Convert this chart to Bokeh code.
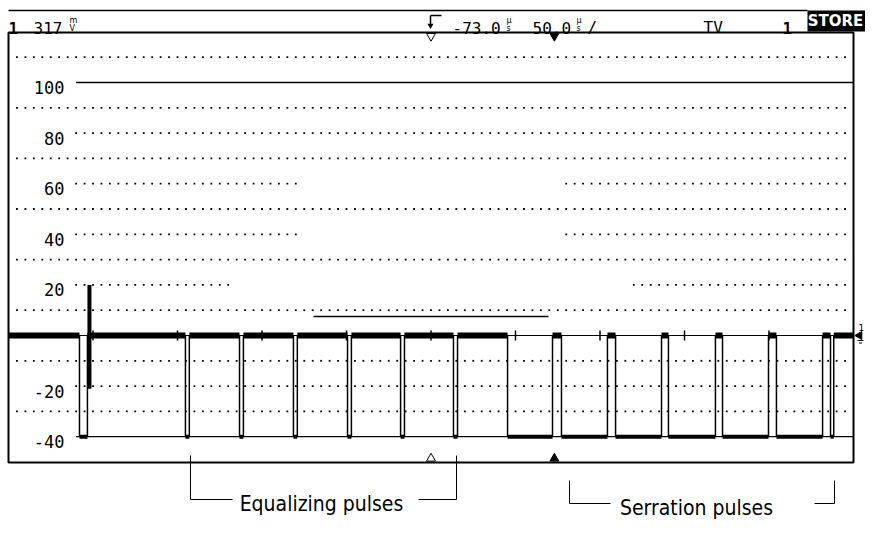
import numpy as np
from bokeh.plotting import figure
from bokeh.models import Range1d
from bokeh.core.properties import value
from bokeh.embed import file_html
from bokeh.resources import INLINE

# ---------------- data read from the scope screen ----------------
# horizontal: microseconds from the left edge of the screen (50 us/div, 10 div)
# vertical: IRE units
screen_span_us = 500.0
time_per_div_us = 50.0
trigger_delay_us = -73.0

header_channel = "1"
header_probe = "317"
header_delay = "-73.0"
header_timebase = "50.0"
header_mode = "TV"
header_store = "STORE"

# sync pulse edges (alternating falling / rising), us
sync_edges_us = [42.0, 46.7,                                   # horizontal sync
                 104.7, 107.0, 136.7, 139.0, 168.6, 170.9,      # pre-equalizing pulses
                 200.6, 202.9, 232.0, 234.3, 263.3, 265.7,
                 295.3, 321.9, 327.2, 354.4, 359.2, 386.4,      # serrated vertical sync
                 390.5, 418.3, 422.5, 449.7, 454.4, 481.7,
                 486.4, 488.3]                                  # post-equalizing pulse
blank_level_ire = 0
sync_level_ire = -40
setup_level_ire = 7.5
setup_span_us = [180.5, 319.5]
burst_t_us = 47.9
burst_span_ire = [-21, 20]

scale_labels = ["100", "80", "60", "40", "20", "-20", "-40"]
scale_values = [100, 80, 60, 40, 20, -20, -40]

annotation_texts = ["Equalizing pulses", "Serration pulses"]

# ---------------- layout ----------------
W, H = 865, 520
X0_PX, PX_PER_US = 8.0, 1.69      # pixel of the screen's left edge, pixels per us
Y0_PX, PX_PER_IRE = 335.0, 2.53   # pixel of 0 IRE, pixels per IRE


def tx(px):
    return (px - X0_PX) / PX_PER_US


def ty(py):
    return (Y0_PX - py) / PX_PER_IRE


p = figure(width=W, height=H, output_backend="svg", toolbar_location=None,
           x_range=Range1d(tx(0), tx(W)), y_range=Range1d(ty(H), ty(0)),
           x_axis_location=None, y_axis_location=None, min_border=0,
           outline_line_color=None, background_fill_color="white",
           border_fill_color="white")
p.grid.visible = False

MONO = value("DejaVu Sans Mono")
SANS = value("DejaVu Sans")
NARROW = value("Liberation Sans Narrow, DejaVu Sans Condensed, sans-serif")

# ---- graticule: dotted rows (dots every 1/10 div) ----
dotted_rows = [
    (110, [(5, 495)]), (90, [(5, 495)]), (70, [(5, 495)]), (50, [(5, 495)]),
    (30, [(5, 495)]), (10, [(5, 495)]), (-10, [(5, 495)]), (-30, [(5, 495)]),
    (80, [(40, 495)]), (-20, [(40, 495)]),
    (60, [(40, 170), (330, 495)]), (40, [(40, 170), (330, 495)]),
    (20, [(40, 130), (370, 495)]),
]
dx, dy = [], []
step = time_per_div_us / 10
for ire, spans in dotted_rows:
    for a, b in spans:
        ts = np.arange(a, b + 0.01, step)
        dx.extend(ts)
        dy.extend([ire] * len(ts))
p.scatter(dx, dy, marker="square", size=1.8, fill_color="black", line_color=None)

# solid reference rows
p.segment(x0=[40], x1=[screen_span_us], y0=[100], y1=[100], line_color="black", line_width=1.6)
p.segment(x0=[40], x1=[screen_span_us], y0=[sync_level_ire], y1=[sync_level_ire],
          line_color="black", line_width=1.2)
p.segment(x0=[0], x1=[screen_span_us], y0=[blank_level_ire], y1=[blank_level_ire],
          line_color="black", line_width=1.2)
p.segment(x0=[setup_span_us[0]], x1=[setup_span_us[1]], y0=[setup_level_ire], y1=[setup_level_ire],
          line_color="black", line_width=1.6)

# division ticks on the centre (0 IRE) line
tick_t = np.arange(time_per_div_us, screen_span_us, time_per_div_us)
p.segment(x0=tick_t, x1=tick_t, y0=ty(330), y1=ty(340), line_color="black", line_width=1.5)

# ---- waveform ----
times = [0.0] + sync_edges_us + [screen_span_us]
levels = [blank_level_ire if i % 2 == 0 else sync_level_ire for i in range(len(times) - 1)]
hi = [(times[i], times[i + 1]) for i in range(len(levels)) if levels[i] == blank_level_ire]
lo = [(times[i], times[i + 1]) for i in range(len(levels)) if levels[i] == sync_level_ire]
p.segment(x0=[a for a, b in hi], x1=[b for a, b in hi], y0=blank_level_ire, y1=blank_level_ire,
          line_color="black", line_width=6)
p.segment(x0=[a for a, b in lo], x1=[b for a, b in lo], y0=sync_level_ire, y1=sync_level_ire,
          line_color="black", line_width=4)
p.segment(x0=sync_edges_us, x1=sync_edges_us, y0=blank_level_ire, y1=sync_level_ire,
          line_color="black", line_width=1.5)
p.segment(x0=[burst_t_us], x1=[burst_t_us], y0=[burst_span_ire[0]], y1=[burst_span_ire[1]],
          line_color="black", line_width=4)

# ---- screen frame & header ----
p.quad(left=[0], right=[screen_span_us], bottom=[ty(462)], top=[ty(32)],
       fill_color=None, line_color="black", line_width=2)
p.segment(x0=[0], x1=[tx(807)], y0=[ty(10)], y1=[ty(10)], line_color="black", line_width=1.5)
p.quad(left=[tx(807)], right=[tx(872)], bottom=[ty(31)], top=[ty(10)],
       fill_color="black", line_color=None)

hb = ty(27)
hfs = "16px"
p.text(x=[tx(8)], y=[hb], text=[header_channel], text_font=MONO, text_font_size=hfs,
       text_font_style="bold", text_baseline="alphabetic")
p.text(x=[tx(33)], y=[hb], text=[header_probe], text_font=MONO, text_font_size=hfs,
       text_baseline="alphabetic")
p.text(x=[tx(452)], y=[hb], text=[header_delay], text_font=MONO, text_font_size=hfs,
       text_baseline="alphabetic")
p.text(x=[tx(532)], y=[hb], text=[header_timebase], text_font=MONO, text_font_size=hfs,
       text_baseline="alphabetic")
p.text(x=[tx(587)], y=[hb], text=["/"], text_font=MONO, text_font_size=hfs,
       text_baseline="alphabetic")
p.text(x=[tx(703)], y=[hb], text=[header_mode], text_font=MONO, text_font_size=hfs,
       text_baseline="alphabetic")
p.text(x=[tx(782)], y=[hb], text=[header_channel], text_font=MONO, text_font_size=hfs,
       text_font_style="bold", text_baseline="alphabetic")
p.text(x=[tx(835)], y=[ty(20.5)], text=[header_store], text_font=SANS, text_font_size="15px",
       text_font_style="bold", text_color="white", text_align="center", text_baseline="middle")
# stacked unit glyphs
p.text(x=[tx(69), tx(506), tx(576)], y=[ty(20)] * 3, text=["m", "µ", "µ"], text_font=SANS,
       text_font_size="8px", text_baseline="alphabetic")
p.text(x=[tx(69), tx(506), tx(576)], y=[ty(28)] * 3, text=["V", "s", "s"], text_font=SANS,
       text_font_size="8px", text_baseline="alphabetic")
# trigger level glyph
p.segment(x0=[tx(430), tx(430)], x1=[tx(441), tx(430)], y0=[ty(15), ty(15)], y1=[ty(15), ty(25)],
          line_color="black", line_width=1.5)
p.scatter([tx(430)], [ty(25)], marker="inverted_triangle", size=6, fill_color="black", line_color=None)

# time reference markers (screen centre, trigger point)
centre_t = screen_span_us / 2
trig_t = centre_t - trigger_delay_us
p.scatter([centre_t], [ty(35.5)], marker="inverted_triangle", size=9, fill_color="white",
          line_color="black", line_width=1)
p.scatter([trig_t], [ty(35.5)], marker="inverted_triangle", size=9, fill_color="black", line_color="black")
p.scatter([centre_t], [ty(458)], marker="triangle", size=9, fill_color="white",
          line_color="black", line_width=1)
p.scatter([trig_t], [ty(458)], marker="triangle", size=9, fill_color="black", line_color="black")

# ground marker on the right
p.scatter([tx(859)], [blank_level_ire], marker="triangle", angle=np.pi / 2, size=8,
          fill_color="black", line_color="black")
p.text(x=[tx(858)], y=[ty(327)], text=[header_channel], text_font=SANS, text_font_size="9px",
       text_baseline="middle")
p.segment(x0=[tx(857), tx(858.5)], x1=[tx(863), tx(861.5)], y0=[ty(340), ty(342.5)],
          y1=[ty(340), ty(342.5)], line_color="black", line_width=1)

# ---- scale labels ----
p.text(x=[tx(64)] * len(scale_values), y=[v - 2 for v in scale_values], text=scale_labels,
       text_font=MONO, text_font_size="17px", text_align="right", text_baseline="middle")

# ---- annotations ----
brackets = [
    ([tx(190), tx(190), tx(232)], [ty(455), ty(499), ty(499)]),
    ([tx(418), tx(456), tx(456)], [ty(499), ty(499), ty(455)]),
    ([tx(569), tx(569), tx(610)], [ty(480), ty(503), ty(503)]),
    ([tx(814), tx(834), tx(834)], [ty(503), ty(503), ty(480)]),
]
p.multi_line(xs=[b[0] for b in brackets], ys=[b[1] for b in brackets], line_color="black", line_width=1)
p.text(x=[tx(321), tx(696)], y=[ty(503), ty(507)], text=annotation_texts, text_font=NARROW,
       text_font_size="21px", text_align="center", text_baseline="alphabetic")

open("out.html", "w").write(file_html(p, INLINE))
